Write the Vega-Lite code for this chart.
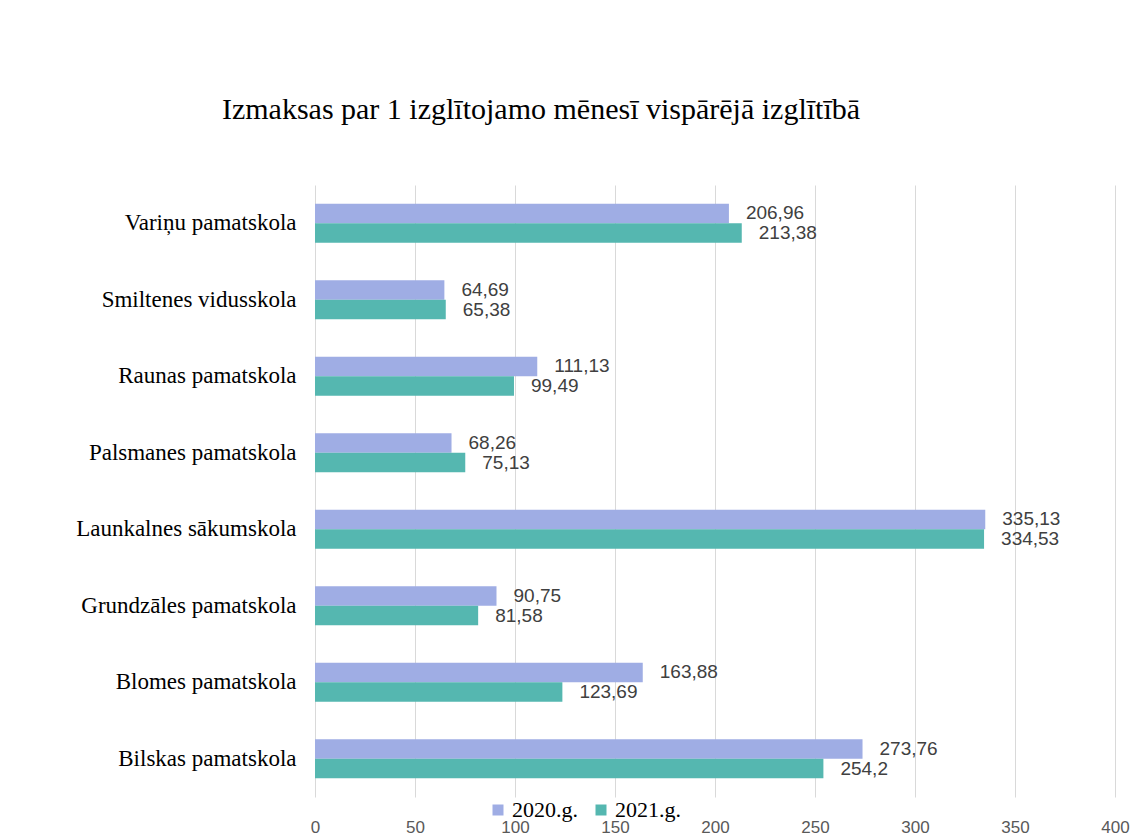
{
  "$schema": "https://vega.github.io/schema/vega-lite/v6.json",
  "width": 800,
  "height": 612,
  "autosize": "none",
  "padding": {"left": 315, "top": 185, "right": 28, "bottom": 41},
  "background": "white",
  "config": {
    "locale": {"number": {"decimal": ",", "thousands": " ", "grouping": [3], "currency": ["", " €"]}},
    "view": {"stroke": null}
  },
  "title": {
    "text": "Izmaksas par 1 izglītojamo mēnesī vispārējā izglītībā",
    "font": "Liberation Serif",
    "fontSize": 30,
    "fontWeight": "normal",
    "color": "#000000",
    "anchor": "middle",
    "dx": -174,
    "offset": 60
  },
  "data": {
    "values": [
      {"school": "Variņu pamatskola", "year": "2020.g.", "value": 206.96},
      {"school": "Variņu pamatskola", "year": "2021.g.", "value": 213.38},
      {"school": "Smiltenes vidusskola", "year": "2020.g.", "value": 64.69},
      {"school": "Smiltenes vidusskola", "year": "2021.g.", "value": 65.38},
      {"school": "Raunas pamatskola", "year": "2020.g.", "value": 111.13},
      {"school": "Raunas pamatskola", "year": "2021.g.", "value": 99.49},
      {"school": "Palsmanes pamatskola", "year": "2020.g.", "value": 68.26},
      {"school": "Palsmanes pamatskola", "year": "2021.g.", "value": 75.13},
      {"school": "Launkalnes sākumskola", "year": "2020.g.", "value": 335.13},
      {"school": "Launkalnes sākumskola", "year": "2021.g.", "value": 334.53},
      {"school": "Grundzāles pamatskola", "year": "2020.g.", "value": 90.75},
      {"school": "Grundzāles pamatskola", "year": "2021.g.", "value": 81.58},
      {"school": "Blomes pamatskola", "year": "2020.g.", "value": 163.88},
      {"school": "Blomes pamatskola", "year": "2021.g.", "value": 123.69},
      {"school": "Bilskas pamatskola", "year": "2020.g.", "value": 273.76},
      {"school": "Bilskas pamatskola", "year": "2021.g.", "value": 254.2}
    ]
  },
  "encoding": {
    "y": {
      "field": "school",
      "type": "nominal",
      "sort": ["Variņu pamatskola", "Smiltenes vidusskola", "Raunas pamatskola", "Palsmanes pamatskola", "Launkalnes sākumskola", "Grundzāles pamatskola", "Blomes pamatskola", "Bilskas pamatskola"],
      "scale": {"paddingInner": 0.49, "paddingOuter": 0.245},
      "axis": {"title": null, "ticks": false, "domain": false, "labelFont": "Liberation Serif", "labelFontSize": 23, "labelColor": "#000000", "labelPadding": 19, "labelLimit": 0}
    },
    "yOffset": {"field": "year", "type": "nominal", "sort": ["2020.g.", "2021.g."]},
    "x": {
      "field": "value",
      "type": "quantitative",
      "scale": {"domain": [0, 400]},
      "axis": {"title": null, "values": [0, 50, 100, 150, 200, 250, 300, 350, 400], "domain": false, "ticks": false, "grid": true, "gridColor": "#d9d9d9", "labelFlush": false, "labelFont": "Liberation Sans", "labelFontSize": 17, "labelColor": "#595959", "labelPadding": 22}
    }
  },
  "layer": [
    {
      "mark": {"type": "bar"},
      "encoding": {
        "color": {
          "field": "year",
          "type": "nominal",
          "scale": {"domain": ["2020.g.", "2021.g."], "range": ["#9FADE4", "#55B7B0"]},
          "legend": {
            "title": null,
            "orient": "none",
            "legendX": 172,
            "legendY": 614,
            "direction": "horizontal",
            "symbolType": "square",
            "symbolSize": 121,
            "symbolStrokeWidth": 0,
            "labelFont": "Liberation Serif",
            "labelFontSize": 22,
            "labelColor": "#000000",
            "labelOffset": 3,
            "columnPadding": 12
          }
        }
      }
    },
    {
      "mark": {"type": "text", "align": "left", "baseline": "middle", "dx": 17, "font": "Liberation Sans", "fontSize": 19, "color": "#404040"},
      "encoding": {"text": {"field": "value", "type": "quantitative", "format": "~g"}}
    }
  ]
}
